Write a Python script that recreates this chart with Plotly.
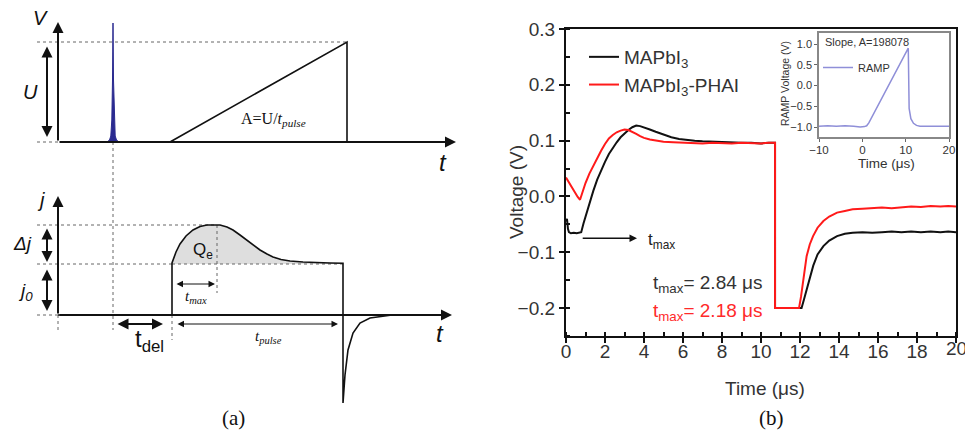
import plotly.graph_objects as go

W, H = 965, 434

# ---------------- panel (b): measured transients ----------------
t_black = [0.00, 0.05, 0.10, 0.15, 0.25, 0.40, 0.55, 0.70, 0.78, 0.90, 1.00, 1.20, 1.40, 1.60,
           1.80, 2.00, 2.20, 2.40, 2.60, 2.80, 3.00, 3.20, 3.40, 3.60, 3.80, 4.00, 4.30, 4.60,
           5.00, 5.40, 5.80, 6.20, 6.60, 7.00, 7.50, 8.00, 8.50, 9.00, 9.50, 10.00, 10.40, 10.72,
           10.72, 11.20, 11.60, 12.08, 12.20, 12.34, 12.50, 12.68, 12.90, 13.20, 13.50, 13.90,
           14.30, 14.70, 15.20, 15.70, 16.20, 16.70, 17.20, 17.70, 18.20, 18.70, 19.20, 19.60, 20.00]
v_black = [-0.045, -0.040, -0.058, -0.064, -0.066, -0.065, -0.066, -0.065, -0.064, -0.048, -0.036,
           -0.013, 0.010, 0.030, 0.047, 0.062, 0.076, 0.087, 0.097, 0.106, 0.113, 0.119, 0.124,
           0.127, 0.126, 0.124, 0.120, 0.116, 0.111, 0.106, 0.103, 0.101, 0.100, 0.099, 0.098,
           0.097, 0.097, 0.096, 0.096, 0.095, 0.096, 0.096,
           -0.200, -0.200, -0.200, -0.200, -0.185, -0.166, -0.145, -0.124, -0.104, -0.089, -0.079,
           -0.071, -0.067, -0.065, -0.064, -0.065, -0.064, -0.063, -0.064, -0.063, -0.064, -0.063,
           -0.064, -0.063, -0.064]

t_red = [0.00, 0.10, 0.20, 0.30, 0.40, 0.50, 0.60, 0.72, 0.85, 1.00, 1.20, 1.40, 1.60, 1.80,
         2.00, 2.20, 2.40, 2.60, 2.80, 3.00, 3.20, 3.40, 3.60, 3.80, 4.00, 4.30, 4.60, 5.00,
         5.50, 6.00, 6.50, 7.00, 7.50, 8.00, 8.50, 9.00, 9.50, 10.00, 10.40, 10.72,
         10.72, 11.30, 11.95, 12.05, 12.17, 12.34, 12.50, 12.67, 12.90, 13.20, 13.50, 13.90,
         14.30, 14.70, 15.20, 15.70, 16.20, 16.70, 17.20, 17.70, 18.20, 18.70, 19.20, 19.60, 20.00]
v_red = [0.034, 0.028, 0.022, 0.016, 0.010, 0.004, -0.001, -0.006, 0.008, 0.024, 0.041, 0.055,
         0.069, 0.082, 0.094, 0.104, 0.110, 0.115, 0.118, 0.120, 0.119, 0.116, 0.112, 0.108,
         0.105, 0.102, 0.100, 0.098, 0.097, 0.096, 0.096, 0.095, 0.096, 0.095, 0.095, 0.096,
         0.095, 0.095, 0.096, 0.096,
         -0.200, -0.200, -0.200, -0.180, -0.148, -0.107, -0.086, -0.071, -0.056, -0.044, -0.036,
         -0.029, -0.026, -0.023, -0.022, -0.021, -0.020, -0.021, -0.019, -0.018, -0.019, -0.017,
         -0.018, -0.017, -0.018]

# inset: RAMP voltage
t_ramp = [-10, -8, -6, -4, -2, -0.5, 0.5, 1.0, 1.5, 2, 4, 6, 8, 10, 10.6, 10.8, 11.2, 11.8,
          12.5, 13.3, 15, 17, 20]
v_ramp = [-0.98, -0.97, -0.98, -0.97, -0.98, -1.00, -0.99, -0.97, -0.90, -0.80, -0.41, -0.01,
          0.39, 0.78, 0.90, -0.55, -0.80, -0.91, -0.96, -0.98, -0.98, -0.97, -0.98]

series_names = ["MAPbI<sub>3</sub>", "MAPbI<sub>3</sub>-PHAI"]
series_colors = ["#111111", "#ff1a1a"]
tmax_labels = ["t<sub>max</sub>= 2.84 μs", "t<sub>max</sub>= 2.18 μs"]
tmax_label_colors = ["#333333", "#ff2a2a"]
x_edge_label = "20"   # last x tick label, cut by the right edge as in the figure

# ---------------- panel (a): schematic (drawing units) ----------------
ramp_x = [170, 347, 347]
ramp_y = [142, 42, 142]
spike_x = [107, 109.5, 110.8, 111.8, 112.5, 113.0, 113.5, 114.2, 115.2, 116.5, 119]
spike_y = [142, 140, 136, 120, 80, 23, 80, 120, 136, 140, 142]
sig_x = [58, 172, 172, 176, 180, 186, 193, 200, 207, 214, 220, 227, 233, 240, 247, 254, 260,
         267, 273, 281, 290, 303, 317, 330, 343, 343, 343, 345, 348, 353, 360, 370, 383, 392]
sig_y = [315, 315, 263, 252, 244, 236, 230, 226.5, 225, 224.6, 225, 227, 230, 235, 240, 245,
         250, 254, 257, 259.5, 261, 262, 262.7, 263, 263.2, 315, 403, 375, 350, 333, 323, 318,
         316, 315]
shade_x = [172, 176, 180, 186, 193, 200, 207, 214, 220, 227, 233, 240, 247, 254, 260, 267, 273,
           281, 290, 303, 317, 330, 343, 343, 172]
shade_y = [263, 252, 244, 236, 230, 226.5, 225, 224.6, 225, 227, 230, 235, 240, 245, 250, 254,
           257, 259.5, 261, 262, 262.7, 263, 263.2, 264, 264]
dotted_x0 = [37, 37, 113, 37, 37, 172, 37, 58, 217, 172]
dotted_y0 = [42, 142, 142, 225, 264, 264, 315, 315, 225, 315]
dotted_x1 = [347, 58, 113, 217, 172, 343, 58, 58, 217, 172]
dotted_y1 = [42, 142, 330, 225, 264, 264, 315, 330, 293, 340]
# arrows: tail -> head, line width, double-headed?
arrow_tx = [58, 58, 58, 58, 47, 47, 47, 175, 116, 176]
arrow_ty = [142, 142, 315, 315, 45, 227, 268, 284, 324, 324]
arrow_hx = [58, 456, 58, 452, 47, 47, 47, 215, 163, 338]
arrow_hy = [22, 142, 196, 315, 137, 262, 311, 284, 324, 324]
arrow_w = [2, 2, 2, 2, 2, 2, 2, 1, 2, 1]
arrow_double = [False, False, False, False, True, True, True, True, True, True]
sch_text = ["<i>V</i>", "<i>U</i>", "<i>t</i>", "A=U/<i>t<sub>pulse</sub></i>", "<i>j</i>",
            "<i>Δj</i>", "<i>j<sub>0</sub></i>", "Q<sub>e</sub>", "<i>t<sub>max</sub></i>",
            "<i>t</i>", "t<sub>del</sub>", "<i>t<sub>pulse</sub></i>"]
sch_tx = [40, 30, 443, 273, 41, 22, 25, 203, 196, 440, 149, 268]
sch_ty = [18, 92, 162, 119, 200, 243, 292, 251, 297, 333, 340, 337]
sch_size = [20, 20, 24, 16, 20, 19, 19, 17, 15, 24, 24, 15]
sch_font = ["Liberation Sans", "Liberation Sans", "Liberation Sans", "Liberation Serif",
            "Liberation Sans", "Liberation Sans", "Liberation Sans", "Liberation Sans",
            "Liberation Serif", "Liberation Sans", "Liberation Sans", "Liberation Serif"]


def px(x):
    return x / W


def py(y):
    return 1 - y / H


def note(x, y, text, size, color="#333", family="Liberation Sans", **kw):
    d = dict(xref="paper", yref="paper", x=px(x), y=py(y), text=text, showarrow=False,
             xanchor="center", yanchor="middle",
             font=dict(family=family, size=size, color=color))
    d.update(kw)
    return d


fig = go.Figure()

# ---- main chart traces ----
fig.add_trace(go.Scatter(x=t_black, y=v_black, mode="lines", name=series_names[0],
                         line=dict(color=series_colors[0], width=2), legend="legend"))
fig.add_trace(go.Scatter(x=t_red, y=v_red, mode="lines", name=series_names[1],
                         line=dict(color=series_colors[1], width=2), legend="legend"))
# ---- inset ----
fig.add_trace(go.Scatter(x=t_ramp, y=v_ramp, mode="lines", name="RAMP", xaxis="x2", yaxis="y2",
                         line=dict(color="#8f8fd8", width=1.5), legend="legend2"))

# ---- schematic ----
sch = dict(xaxis="x3", yaxis="y3", showlegend=False, hoverinfo="skip")
fig.add_trace(go.Scatter(x=shade_x, y=shade_y, mode="lines", fill="toself",
                         fillcolor="#dedede", line=dict(width=0), **sch))
for i in range(len(dotted_x0)):
    fig.add_trace(go.Scatter(x=[dotted_x0[i], dotted_x1[i]], y=[dotted_y0[i], dotted_y1[i]],
                             mode="lines", line=dict(color="#666666", width=1, dash="dot"), **sch))
fig.add_trace(go.Scatter(x=spike_x, y=spike_y, mode="lines", fill="toself",
                         fillcolor="#2a2a90", line=dict(color="#2a2a90", width=1), **sch))
fig.add_trace(go.Scatter(x=ramp_x, y=ramp_y, mode="lines",
                         line=dict(color="#111111", width=1.6), **sch))
fig.add_trace(go.Scatter(x=sig_x, y=sig_y, mode="lines",
                         line=dict(color="#111111", width=1.6), **sch))

annotations = []
for i in range(len(arrow_tx)):
    a = dict(xref="x3", yref="y3", axref="x3", ayref="y3", x=arrow_hx[i], y=arrow_hy[i],
             ax=arrow_tx[i], ay=arrow_ty[i], text="", showarrow=True, arrowhead=2,
             arrowsize=1.1 if arrow_w[i] == 2 else 1.3, arrowwidth=arrow_w[i],
             arrowcolor="#111111", standoff=0, startstandoff=0)
    if arrow_double[i]:
        a["arrowside"] = "end+start"
        a["startarrowhead"] = 2
        a["startarrowsize"] = a["arrowsize"]
    annotations.append(a)
for i in range(len(sch_text)):
    annotations.append(dict(xref="x3", yref="y3", x=sch_tx[i], y=sch_ty[i], text=sch_text[i],
                            showarrow=False, xanchor="center", yanchor="middle",
                            font=dict(family=sch_font[i], size=sch_size[i], color="#111111")))

# panel labels
annotations.append(note(233, 418, "(a)", 21, "#111", "Liberation Serif"))
annotations.append(note(771, 418, "(b)", 21, "#111", "Liberation Serif"))

# main chart texts
annotations.append(dict(xref="x", yref="y", x=3.64, y=-0.075, ax=0.78, ay=-0.075, axref="x",
                        ayref="y", text="", showarrow=True, arrowhead=2, arrowsize=1,
                        arrowwidth=1.5, arrowcolor="#111"))
annotations.append(dict(xref="x", yref="y", x=4.1, y=-0.079, text="t<sub>max</sub>",
                        xanchor="left", yanchor="middle", showarrow=False,
                        font=dict(family="Liberation Sans", size=17, color="#222")))
annotations.append(dict(xref="x", yref="y", x=4.35, y=-0.157, text=tmax_labels[0],
                        xanchor="left", yanchor="middle", showarrow=False,
                        font=dict(family="Liberation Sans", size=19, color=tmax_label_colors[0])))
annotations.append(dict(xref="x", yref="y", x=4.35, y=-0.207, text=tmax_labels[1],
                        xanchor="left", yanchor="middle", showarrow=False,
                        font=dict(family="Liberation Sans", size=19, color=tmax_label_colors[1])))
annotations.append(dict(xref="x", yref="paper", x=20, y=py(348), text=x_edge_label,
                        xanchor="center", yanchor="middle", showarrow=False,
                        font=dict(family="Liberation Sans", size=19, color="#333")))
annotations.append(note(516, 192, "Voltage (V)", 19, textangle=-90))
annotations.append(note(765, 388, "Time (μs)", 19))
# inset texts
annotations.append(note(867, 42, "Slope, A=198078", 11))
annotations.append(note(785, 84, "RAMP Voltage (V)", 10.5, textangle=-90))
annotations.append(note(886, 164, "Time (μs)", 13.5))

tickfont = dict(family="Liberation Sans", size=19, color="#333")
fig.update_layout(
    width=W, height=H, margin=dict(l=0, r=0, t=0, b=0, pad=0, autoexpand=False), autosize=False,
    paper_bgcolor="white", plot_bgcolor="rgba(0,0,0,0)",
    annotations=annotations,
    xaxis=dict(domain=[px(566), px(956)], range=[0, 20], dtick=2, tick0=0, ticks="outside",
               ticklen=5, tickwidth=1.5, tickcolor="#111", showline=True, linewidth=2.2,
               linecolor="#111", mirror=True, showgrid=False, zeroline=False, tickfont=tickfont,
               ticklabelstandoff=-8,
               minor=dict(dtick=1, ticks="inside", ticklen=4, tickcolor="#111", showgrid=False),
               anchor="y", automargin=False),
    yaxis=dict(domain=[py(336), py(29)], range=[-0.25, 0.3], dtick=0.1, tick0=0,
               tickformat=".1f", ticks="outside", ticklen=5, tickwidth=1.5, tickcolor="#111",
               showline=True, linewidth=2.2, linecolor="#111", mirror=True, showgrid=False,
               zeroline=False, tickfont=tickfont,
               minor=dict(dtick=0.05, ticks="inside", ticklen=4, tickcolor="#111",
                          showgrid=False), anchor="x", automargin=False),
    xaxis2=dict(domain=[px(819), px(949)], range=[-10, 20], dtick=10, ticks="outside",
                ticklen=3, tickcolor="#666", showline=True, linewidth=1.5, linecolor="#888",
                mirror=True, showgrid=False, zeroline=False, ticklabelstandoff=-2,
                tickfont=dict(family="Liberation Sans", size=11.5, color="#333"), anchor="y2",
                automargin=False),
    yaxis2=dict(domain=[py(137), py(33)], range=[-1.24, 1.265], dtick=0.5, tick0=0,
                tickformat=".1f", ticks="outside", ticklen=3, tickcolor="#666", showline=True,
                linewidth=1.5, linecolor="#888", mirror=True, showgrid=False, zeroline=False,
                tickfont=dict(family="Liberation Sans", size=11, color="#333"), anchor="x2",
                automargin=False),
    xaxis3=dict(domain=[0, 0.5], range=[0, W * 0.5], visible=False, fixedrange=True,
                anchor="y3", automargin=False),
    yaxis3=dict(domain=[0, 1], range=[H, 0], visible=False, fixedrange=True, anchor="x3",
                automargin=False),
    legend=dict(x=px(584), y=py(38), xanchor="left", yanchor="top", bgcolor="rgba(0,0,0,0)",
                font=dict(family="Liberation Sans", size=19, color="#333"), tracegroupgap=0),
    legend2=dict(x=px(818), y=py(53), xanchor="left", yanchor="top", bgcolor="rgba(0,0,0,0)",
                 font=dict(family="Liberation Sans", size=11, color="#333")),
)

fig.write_html("out.html", config={"responsive": False})
